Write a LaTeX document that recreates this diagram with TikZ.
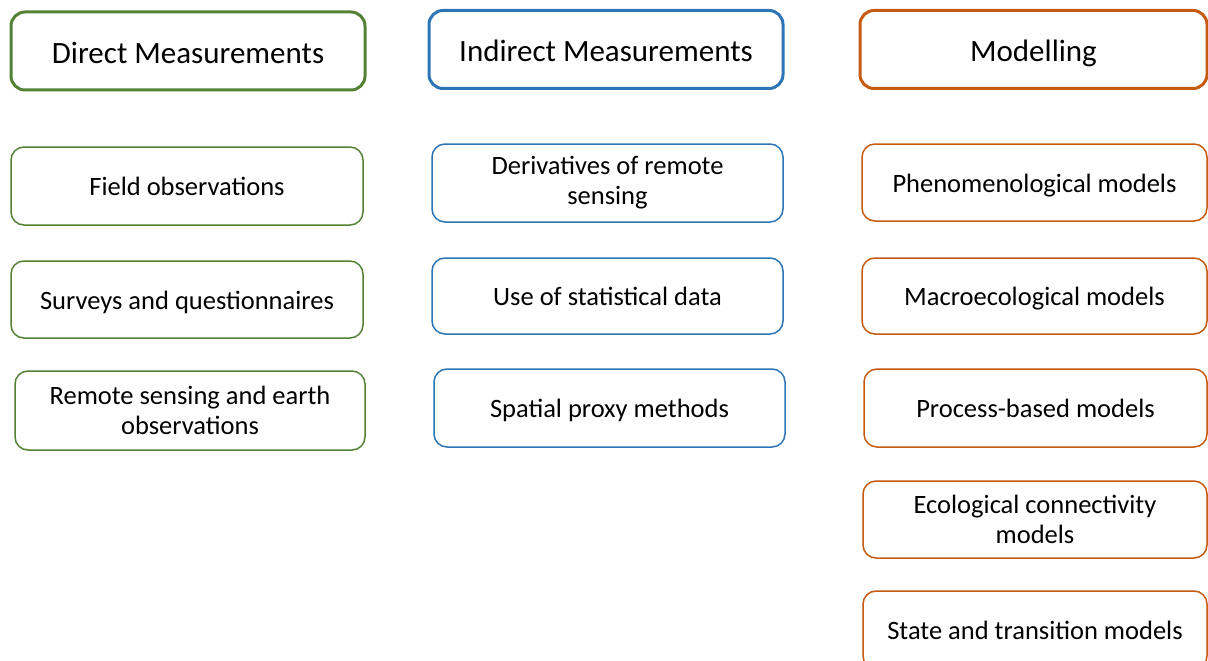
\documentclass[tikz,border=0pt]{standalone}
\usepackage{fontspec}
\setmainfont{Carlito}
\definecolor{cgreen}{RGB}{84,130,53}
\definecolor{cblue}{RGB}{46,117,182}
\definecolor{corange}{RGB}{197,90,17}
\tikzset{
  headbox/.style={draw, line width=3pt, rounded corners=14pt, fill=white,
    minimum height=78pt, inner sep=0pt,
    font=\fontsize{31}{37}\selectfont, text=black,
    text height=27.3pt, text depth=3.1pt},
  subbox/.style={draw, line width=1.5pt, rounded corners=13pt, fill=white,
    minimum height=78pt, inner sep=0pt,
    font=\fontsize{26.5}{30}\selectfont, text=black},
  oneline/.style={text height=19.5pt, text depth=0.5pt},
  twoline/.style={align=center},
}
\begin{document}
\begin{tikzpicture}[x=1pt,y=-1pt]
\useasboundingbox (0,0) rectangle (1208,661);
\clip (0,0) rectangle (1208,661);
\fill[white] (0,0) rectangle (1208,661);
% headers
\node[headbox, draw=cgreen, minimum width=354pt] (dm) at (188,51) {Direct Measurements};
\node[headbox, draw=cblue, minimum width=354pt] (im) at (606,49.5) {Indirect Measurements};
\node[headbox, draw=corange, minimum width=347pt] (mo) at (1033.5,49.5) {Modelling};
% column 1
\node[subbox, oneline, draw=cgreen, minimum width=352pt] (fo) at (187,186) {Field observations};
\node[subbox, oneline, draw=cgreen, minimum width=352pt, minimum height=77pt] (sq) at (187,299.5) {Surveys and questionnaires};
\node[subbox, twoline, draw=cgreen, minimum width=350pt, minimum height=79pt] (rs) at (190,410.5) {Remote sensing and earth\\observations};
% column 2
\node[subbox, twoline, draw=cblue, minimum width=351pt] (dr) at (607.5,183) {Derivatives of remote\\sensing};
\node[subbox, oneline, draw=cblue, minimum width=351pt, minimum height=76pt] (us) at (607.5,296) {Use of statistical data};
\node[subbox, oneline, draw=cblue, minimum width=351pt] (sp) at (609.5,408) {Spatial proxy methods};
% column 3
\node[subbox, oneline, draw=corange, minimum width=345pt, minimum height=77pt] (ph) at (1034.5,182.5) {Phenomenological models};
\node[subbox, oneline, draw=corange, minimum width=345pt, minimum height=76pt] (ma) at (1034.5,296) {Macroecological models};
\node[subbox, oneline, draw=corange, minimum width=343pt] (pb) at (1035.5,408) {Process-based models};
\node[subbox, twoline, draw=corange, minimum width=344pt, minimum height=77pt] (ec) at (1035,519.5) {Ecological connectivity\\models};
\node[subbox, oneline, draw=corange, minimum width=344pt] (st) at (1035,630) {State and transition models};
\end{tikzpicture}
\end{document}
